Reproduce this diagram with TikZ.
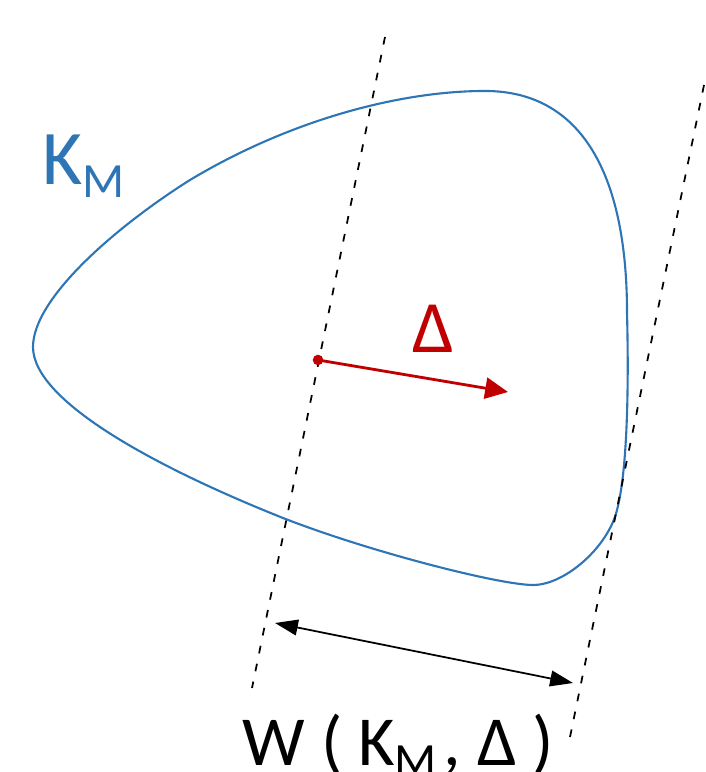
\documentclass[tikz,border=0pt]{standalone}
\usepackage{fontspec}
\setmainfont{Carlito}
\usepackage{xcolor}
\usepackage{tkz-euclide}
\usetikzlibrary{calc,arrows.meta}

\definecolor{kblue}{RGB}{46,117,182}
\definecolor{dred}{RGB}{192,0,0}
\newcommand{\lowsub}[1]{\raisebox{-3.5pt}{\fontsize{14}{14}\selectfont #1}}

\begin{document}
\begin{tikzpicture}
\useasboundingbox (0,0) rectangle (7.05,7.72);

\tkzDefPoint(3.85,7.35){A}
\tkzDefPoint(2.52,0.84){B}
\tkzDefPoint(7.04,6.87){C}
\tkzDefPoint(5.70,0.35){D}

\tkzDefPoint(3.18,4.12){O}
\tkzDefPoint(5.08,3.80){E}

\tkzDefPoint(2.75,1.49){P}
\tkzDefPoint(5.73,0.89){Q}

% the set K_M
\draw[kblue, line width=0.6pt] (0.33,4.25)
  .. controls (0.33,4.75) and (1.2,5.48) .. (1.9,5.92)
  .. controls (2.9,6.52) and (4.0,6.81) .. (4.85,6.81)
  .. controls (5.8,6.81) and (6.27,6.0) .. (6.27,4.59)
  .. controls (6.29,3.8) and (6.27,3.0) .. (6.17,2.62)
  .. controls (6.08,2.25) and (5.65,1.87) .. (5.33,1.87)
  .. controls (5.0,1.87) and (3.7,2.2) .. (2.83,2.54)
  .. controls (1.6,3.03) and (0.33,3.7) .. cycle;

\draw[dash pattern=on 2.2pt off 3pt, line width=0.5pt] (A) -- (B);
\draw[dash pattern=on 2.2pt off 3pt, line width=0.5pt] (C) -- (D);

\draw[dred, line width=0.8pt, -{Triangle[length=6.5pt,width=6pt]}] (O) -- (E);
\fill[dred] (O) circle (1.5pt);

\draw[line width=0.5pt, {Triangle[length=6.5pt,width=4.5pt]}-{Triangle[length=6.5pt,width=4.5pt]}] (P) -- (Q);

\node[kblue, anchor=base west, inner sep=0, font=\fontsize{22}{26}\selectfont] (kname) at (0.42,5.87) {K\lowsub{M}};
\node[dred, anchor=base west, inner sep=0, font=\fontsize{21}{25}\selectfont] (dname) at (4.12,4.19) {Δ};
\node[anchor=base west, inner sep=0, font=\fontsize{20}{24}\selectfont] (wname) at (2.42,0.07) {W ( K\lowsub{M}\hspace{0.1em}, Δ )};

\end{tikzpicture}
\end{document}
